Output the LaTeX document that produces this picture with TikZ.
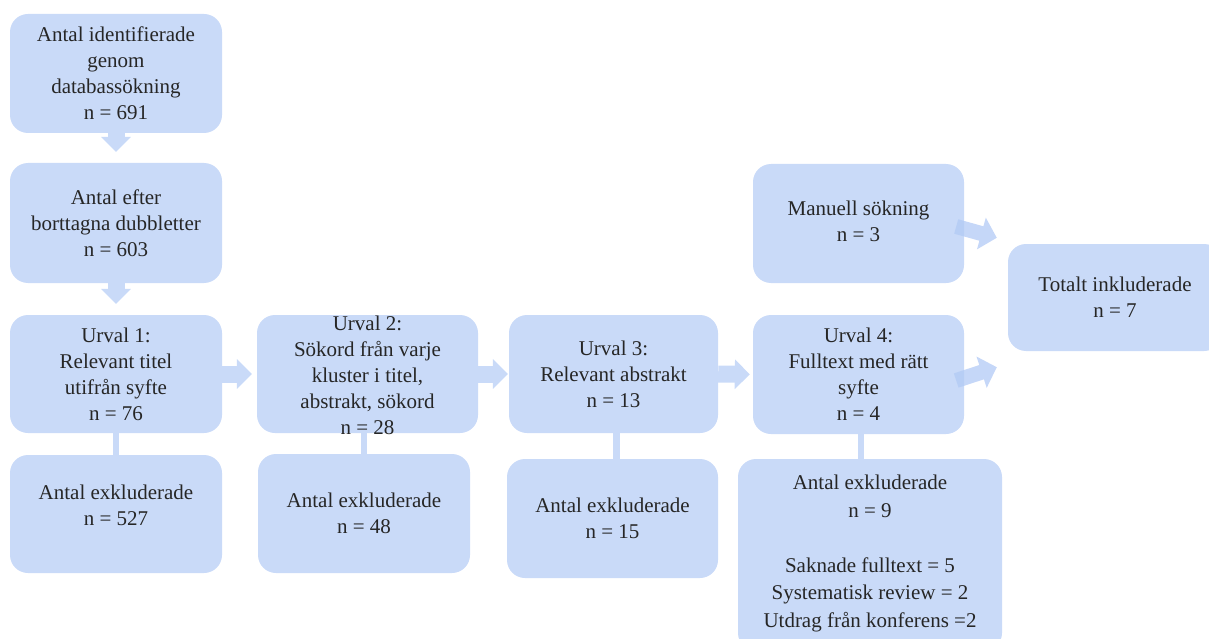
\documentclass[tikz,border=0pt]{standalone}
\usepackage{fontspec}
\setmainfont{Liberation Serif}
\usetikzlibrary{arrows.meta,calc}
\definecolor{boxc}{HTML}{C9DAF8}
\definecolor{darr}{HTML}{B2CAF5}
\begin{document}
\begin{tikzpicture}[x=1pt,y=-1pt,
  box/.style={fill=boxc, rounded corners=18pt, inner sep=0pt, align=center,
    font=\fontsize{21}{26}\selectfont, text=black!85},
  txt/.style={inner sep=0pt, align=center, font=\fontsize{21}{26}\selectfont, text=black!85},
  arr/.style={draw=boxc, line width=17pt, -{Triangle[length=15pt,width=29pt]}},
  darrow/.style={draw=darr, line width=15pt, -{Triangle[length=16pt,width=32pt]}},
  link/.style={draw=boxc, line width=6.5pt}]
\useasboundingbox (0,0) rectangle (1209,639);

% boxes
\node[box, minimum width=212pt, minimum height=119pt] (b1) at (116,73.5)
  {Antal identifierade\\genom\\databassökning\\n = 691};
\node[box, minimum width=212pt, minimum height=120pt] (b2) at (116,223)
  {Antal efter\\borttagna dubbletter\\n = 603};
\node[box, minimum width=212pt, minimum height=118pt] (b3) at (116,374)
  {Urval 1:\\Relevant titel\\utifrån syfte\\n = 76};
\node[box, minimum width=212pt, minimum height=118pt] (b4) at (116,514) {};
\node[txt] (b4t) at (116,505) {Antal exkluderade\\n = 527};

\node[box, minimum width=221pt, minimum height=118pt] (b5) at (367.5,374) {};
\node[txt] (b5t) at (367.5,375) {Urval 2:\\Sökord från varje\\kluster i titel,\\abstrakt, sökord\\n = 28};
\node[box, minimum width=212pt, minimum height=119pt] (b6) at (364,513.5)
  {Antal exkluderade\\n = 48};

\node[box, minimum width=209pt, minimum height=118pt] (b7) at (613.5,374)
  {Urval 3:\\Relevant abstrakt\\n = 13};
\node[box, minimum width=211pt, minimum height=119pt] (b8) at (612.5,518.5)
  {Antal exkluderade\\n = 15};

\node[box, minimum width=211pt, minimum height=119pt] (b9) at (858.5,223.5) {};
\node[txt] (b9t) at (858.5,221) {Manuell sökning\\n = 3};
\node[box, minimum width=211pt, minimum height=119pt] (b10) at (858.5,374.5)
  {Urval 4:\\Fulltext med rätt\\syfte\\n = 4};
\node[box, minimum width=214pt, minimum height=107pt] (b11) at (1115,297.5)
  {Totalt inkluderade\\n = 7};
\node[box, minimum width=264pt, minimum height=192pt] (b12) at (870,555) {};
\node[txt, anchor=north, font=\fontsize{21}{27.5}\selectfont] (b12t) at (870,475)
  {Antal exkluderade\\n = 9\\[27.5pt]Saknade fulltext = 5\\Systematisk review = 2\\Utdrag från konferens =2};

% connectors
\draw[arr, shorten >=11pt] (b1.south) -- (b2.north);
\draw[arr, shorten >=11pt] (b2.south) -- (b3.north);
\draw[arr, shorten >=5pt] (b3.east) -- (b5.west);
\draw[arr, shorten >=1pt] (b5.east) -- (b7.west);
\draw[arr, shorten >=3pt] (b7.east) -- (b10.west);

\draw[link] (b3.south) -- (b4.north);
\draw[link] (b6.north) -- (b6.north |- b5.south);
\draw[link] ([xshift=4pt]b8.north) -- ([xshift=4pt]b8.north |- b7.south);
\draw[link] ([xshift=2.5pt]b10.south) -- ([xshift=2.5pt]b10.south |- b12.north);

\begin{scope}[transparency group, opacity=0.75]
\draw[darrow] ($(b9.east)+(-8,3)$) -- ($(b11.north west)+(-11,-6)$);
\end{scope}
\begin{scope}[transparency group, opacity=0.75]
\draw[darrow] ($(b10.east)+(-8,6)$) -- ($(b11.south west)+(-11,16)$);
\end{scope}
\end{tikzpicture}
\end{document}
